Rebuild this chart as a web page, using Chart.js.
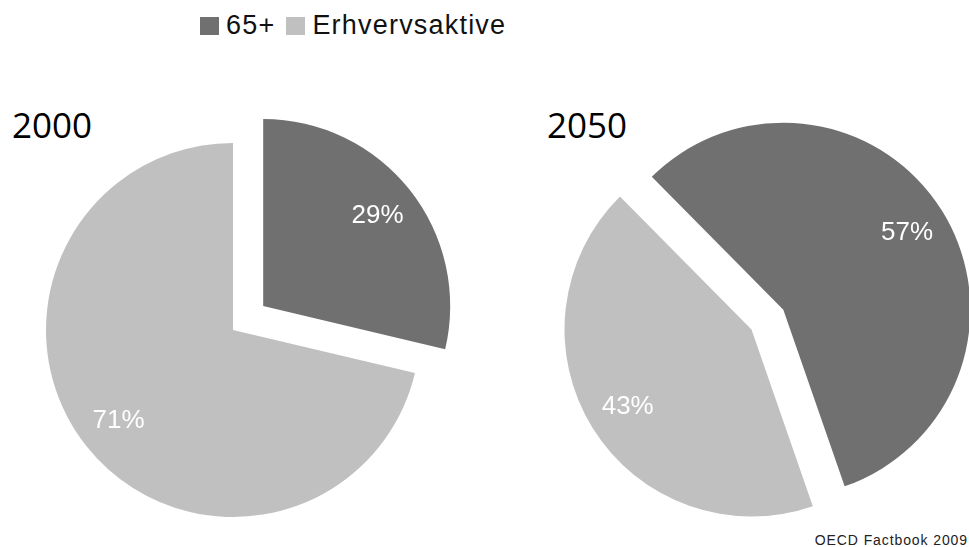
<!DOCTYPE html>
<html>
<head>
<meta charset="utf-8">
<script src="https://cdn.jsdelivr.net/npm/chart.js@4.4.0/dist/chart.umd.min.js"></script>
<style>
  html, body { margin: 0; padding: 0; background: #fff; }
  body { width: 969px; height: 547px; overflow: hidden; position: relative; font-family: "Liberation Sans", Arial, sans-serif; }
  canvas.pie { position: absolute; left: 0; top: 0; }
  #legend { position: absolute; left: 200px; top: 12px; display: flex; align-items: flex-start; font-size: 27px; line-height: 27px; color: #111; white-space: nowrap; letter-spacing: 1.2px; }
  #legend .item { display: flex; align-items: flex-start; margin-right: 11px; }
  #legend .box { width: 19px; height: 18px; margin-top: 5px; margin-right: 7px; }
  .ytitle { position: absolute; font-family: "Open Sans", "Noto Sans", sans-serif; font-size: 35px; line-height: 35px; color: #000; }
  #source { position: absolute; right: 1px; top: 533px; font-size: 14px; line-height: 14px; letter-spacing: 0.9px; color: #222; }
</style>
</head>
<body>
<div id="legend"></div>
<div class="ytitle" id="title1" style="left:12px; top:107px;"></div>
<div class="ytitle" id="title2" style="left:547px; top:107px;"></div>
<div id="source"></div>
<canvas class="pie" id="pie2000" width="969" height="547"></canvas>
<canvas class="pie" id="pie2050" width="969" height="547"></canvas>
<script>
// ---- data ----
const categories = ['65+', 'Erhvervsaktive'];
const years = ['2000', '2050'];
const share2000 = [28.7, 71.3];
const share2050 = [57.1, 42.9];
const sourceNote = 'OECD Factbook 2009';

// ---- styles ----
const sliceColors = ['#707070', '#c0c0c0'];

// explode selected slices outward (pixels) and write percentage labels
const explodePlugin = {
  id: 'explodeLabels',
  beforeDatasetDraw(chart, args, opts) {
    const ctx = chart.ctx;
    const dist = opts.distances || [];
    args.meta.data.forEach((arc, i) => {
      const d = dist[i] || 0;
      const mid = (arc.startAngle + arc.endAngle) / 2;
      ctx.save();
      ctx.translate(Math.cos(mid) * d, Math.sin(mid) * d);
      arc.draw(ctx, chart.chartArea);
      ctx.restore();
    });
    return false;
  },
  afterDatasetsDraw(chart, args, opts) {
    const ctx = chart.ctx;
    const dist = opts.distances || [];
    const ds = chart.data.datasets[0];
    const total = ds.data.reduce((a, b) => a + b, 0);
    const meta = chart.getDatasetMeta(0);
    ctx.save();
    ctx.fillStyle = '#ffffff';
    ctx.font = '26px "Liberation Sans", Arial, sans-serif';
    ctx.textAlign = 'center';
    ctx.textBaseline = 'middle';
    meta.data.forEach((arc, i) => {
      const d = dist[i] || 0;
      const mid = (arc.startAngle + arc.endAngle) / 2;
      const rr = d + arc.outerRadius * opts.labelRadius;
      const txt = Math.round(ds.data[i] / total * 100) + '%';
      ctx.fillText(txt, arc.x + Math.cos(mid) * rr, arc.y + Math.sin(mid) * rr);
    });
    ctx.restore();
  }
};

function makePie(id, values, rotation, padding, distances) {
  return new Chart(document.getElementById(id), {
    type: 'pie',
    data: {
      labels: categories,
      datasets: [{ data: values, backgroundColor: sliceColors, borderWidth: 0 }]
    },
    options: {
      responsive: false,
      animation: false,
      radius: 187,
      rotation: rotation,
      layout: { padding: padding },
      events: [],
      plugins: {
        legend: { display: false },
        tooltip: { enabled: false },
        explodeLabels: { distances: distances, labelRadius: 0.78 }
      }
    },
    plugins: [explodePlugin]
  });
}

makePie('pie2000', share2000, 0, { left: 0, right: 503, top: 113, bottom: 0 }, [38.5, 0]);
makePie('pie2050', share2050, -44.7, { left: 534, right: 0, top: 112, bottom: 0 }, [37.5, 0]);

// ---- text ----
document.getElementById('title1').textContent = years[0];
document.getElementById('title2').textContent = years[1];
document.getElementById('source').textContent = sourceNote;
const legend = document.getElementById('legend');
categories.forEach((c, i) => {
  const item = document.createElement('div');
  item.className = 'item';
  const box = document.createElement('div');
  box.className = 'box';
  box.style.background = sliceColors[i];
  const label = document.createElement('span');
  label.textContent = c;
  item.appendChild(box);
  item.appendChild(label);
  legend.appendChild(item);
});
</script>
</body>
</html>
